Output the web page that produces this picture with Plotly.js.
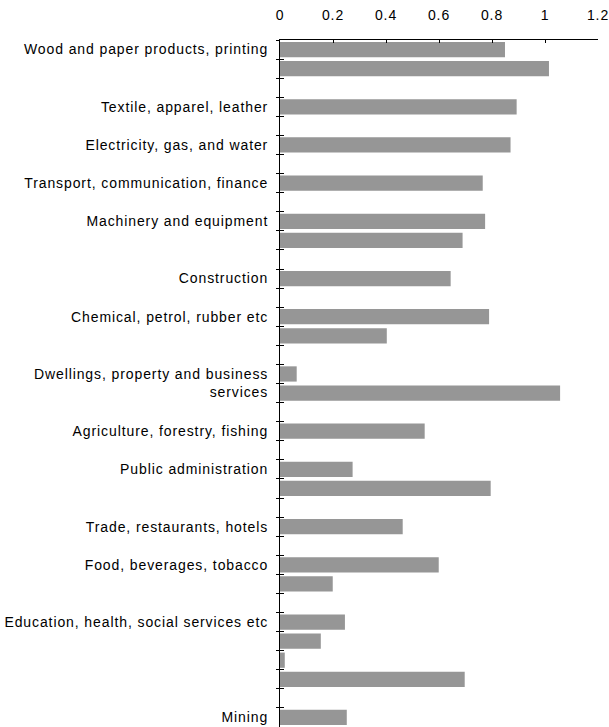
<!DOCTYPE html>
<html>
<head>
<meta charset="utf-8">
<script src="https://cdn.plot.ly/plotly-3.0.1.min.js"></script>
<style>
html,body{margin:0;padding:0;background:#fff;}
#chart{width:609px;height:727px;}
#chart .ytick text, #chart .xtick text{letter-spacing:0.9px;}
</style>
</head>
<body>
<div id="chart"></div>
<script>
// One row per category slot (top to bottom); '' = unlabeled row, null = no bar
const rowLabels = [
  "Wood and paper products, printing", "", "",
  "Textile, apparel, leather", "",
  "Electricity, gas, and water", "",
  "Transport, communication, finance", "",
  "Machinery and equipment", "", "",
  "Construction", "",
  "Chemical, petrol, rubber etc", "", "",
  "Dwellings, property and business<br>services", "", "",
  "Agriculture, forestry, fishing", "",
  "Public administration", "", "",
  "Trade, restaurants, hotels", "",
  "Food, beverages, tobacco", "", "",
  "Education, health, social services etc", "", "", "", "",
  "Mining"
];
const rowValues = [
  0.849, 1.015, null,
  0.893, null,
  0.870, null,
  0.765, null,
  0.774, 0.689, null,
  0.644, null,
  0.789, 0.403, null,
  0.063, 1.057, null,
  0.546, null,
  0.274, 0.795, null,
  0.463, null,
  0.599, 0.199, null,
  0.245, 0.154, 0.018, 0.697, null,
  0.252
];
const xTicks = [0, 0.2, 0.4, 0.6, 0.8, 1, 1.2];

const idx = rowLabels.map((_, i) => i);
const labelPos = [], labelText = [];
rowLabels.forEach((t, i) => {
  if (t) { labelPos.push(t.includes("<br>") ? i + 0.5 : i); labelText.push(t); }
});
const bounds = [];
for (let i = 0; i <= rowLabels.length; i++) bounds.push(i - 0.5);
const yRange = [rowLabels.length - 0.5, -0.5];

const trace = {
  type: "bar", orientation: "h",
  x: rowValues, y: idx,
  width: 0.8,
  marker: {color: "#969696", line: {width: 0}},
  hoverinfo: "x"
};
// empty helper traces so the overlaid tick-mark axes are drawn
const helper = (ax) => ({type: "scatter", mode: "markers", x: [null], y: [null],
  yaxis: ax, hoverinfo: "skip", showlegend: false});

const font = {family: "Liberation Sans, Arial, sans-serif", size: 14, color: "#000"};
const tickAxis = (dir, len) => ({
  overlaying: "y", anchor: "x", side: "left", range: yRange,
  tickmode: "array", tickvals: bounds, ticktext: bounds.map(() => ""),
  ticks: dir, ticklen: len, tickcolor: "#000", tickwidth: 1,
  showline: false, showgrid: false, zeroline: false, showticklabels: false
});

const layout = {
  width: 609, height: 727,
  margin: {l: 280, r: 11, t: 40, b: 0},
  paper_bgcolor: "#fff", plot_bgcolor: "#fff",
  font: font, showlegend: false, bargap: 0.2,
  xaxis: {
    side: "top", range: [0, 1.2], tickmode: "array", tickvals: xTicks,
    ticktext: xTicks.map(String),
    ticks: "inside", ticklen: 3, tickcolor: "#000",
    ticklabelstandoff: 13,
    showline: true, linecolor: "#000", linewidth: 1,
    showgrid: false, zeroline: false, tickfont: font
  },
  yaxis: {
    range: yRange, tickmode: "array", tickvals: labelPos, ticktext: labelText,
    ticks: "", ticklabelstandoff: 8,
    showline: true, linecolor: "#000", linewidth: 1,
    showgrid: false, zeroline: false, tickfont: font
  },
  yaxis2: tickAxis("outside", 3),
  yaxis3: tickAxis("inside", 4)
};

Plotly.newPlot("chart", [trace, helper("y2"), helper("y3")], layout, {displayModeBar: false, staticPlot: true});
</script>
</body>
</html>
